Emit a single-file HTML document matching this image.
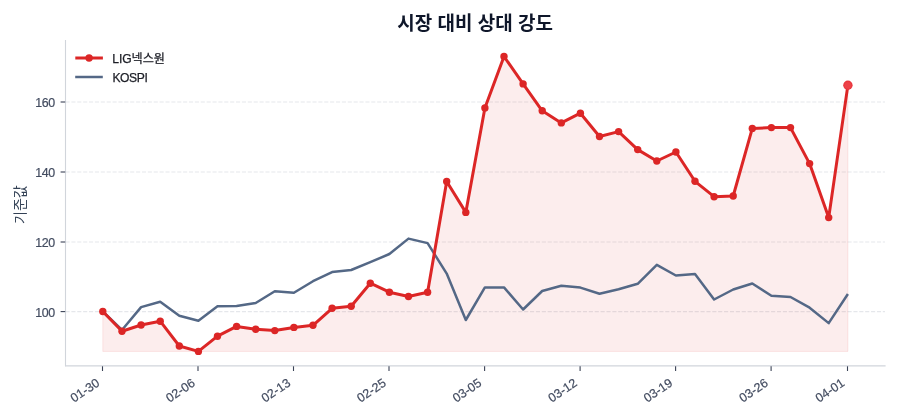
<!DOCTYPE html>
<html lang="ko"><head><meta charset="utf-8"><title>시장 대비 상대 강도</title>
<style>
html,body{margin:0;padding:0;background:#fff;}
body{width:900px;height:420px;overflow:hidden;}
svg{display:block;}
text{font-family:"Liberation Sans","Noto Sans CJK KR",sans-serif;}
.ko{font-family:"Liberation Sans","Noto Sans CJK KR",sans-serif;}
.tick{font-size:11.5px;fill:#434c60;stroke:#434c60;stroke-width:0.2px;}
.leg{font-size:12.1px;fill:#1c1e26;stroke:#1c1e26;stroke-width:0.25px;}
</style></head><body>
<svg width="900" height="420" viewBox="0 0 900 420">
<rect width="900" height="420" fill="#ffffff"/>
<line x1="65.5" x2="885" y1="102.0" y2="102.0" stroke="#e5e7eb" stroke-width="1.1" stroke-dasharray="4.1 1.78"/>
<line x1="65.5" x2="885" y1="172.0" y2="172.0" stroke="#e5e7eb" stroke-width="1.1" stroke-dasharray="4.1 1.78"/>
<line x1="65.5" x2="885" y1="242.0" y2="242.0" stroke="#e5e7eb" stroke-width="1.1" stroke-dasharray="4.1 1.78"/>
<line x1="65.5" x2="885" y1="311.6" y2="311.6" stroke="#e5e7eb" stroke-width="1.1" stroke-dasharray="4.1 1.78"/>
<polygon points="102.8,311.5 122.0,331.2 141.1,325.0 160.2,321.2 179.3,346.0 198.4,351.4 217.5,336.2 236.6,326.4 255.7,329.3 274.8,330.6 293.9,327.4 313.0,325.3 332.1,308.3 351.2,306.3 370.3,283.2 389.4,292.2 408.5,296.5 427.6,292.2 446.7,181.5 465.8,212.4 484.9,107.9 504.0,56.5 523.1,83.9 542.2,110.8 561.3,122.9 580.4,113.2 599.5,136.5 618.6,131.6 637.7,149.6 656.8,161.0 675.9,152.0 695.0,181.3 714.1,196.7 733.2,196.0 752.3,128.4 771.4,127.6 790.5,127.6 809.6,163.6 828.7,217.6 847.9,85.1 847.9,351.4 102.8,351.4" fill="#dc2626" fill-opacity="0.082" stroke="#dc2626" stroke-opacity="0.09" stroke-width="1"/>
<polyline points="102.8,311.5 122.0,330.0 141.1,307.1 160.2,301.7 179.3,315.7 198.4,320.7 217.5,306.2 236.6,306.1 255.7,303.0 274.8,291.3 293.9,292.7 313.0,281.2 332.1,272.1 351.2,270.0 370.3,262.2 389.4,254.0 408.5,238.6 427.6,243.1 446.7,273.6 465.8,320.0 484.9,287.4 504.0,287.4 523.1,309.5 542.2,291.0 561.3,285.7 580.4,287.6 599.5,293.8 618.6,289.3 637.7,283.8 656.8,264.8 675.9,275.5 695.0,274.0 714.1,299.5 733.2,289.5 752.3,283.5 771.4,295.7 790.5,297.0 809.6,307.7 828.7,323.1 847.9,294.0" fill="none" stroke="#546886" stroke-width="2.5" stroke-linejoin="round" stroke-linecap="butt"/>
<polyline points="102.8,311.5 122.0,331.2 141.1,325.0 160.2,321.2 179.3,346.0 198.4,351.4 217.5,336.2 236.6,326.4 255.7,329.3 274.8,330.6 293.9,327.4 313.0,325.3 332.1,308.3 351.2,306.3 370.3,283.2 389.4,292.2 408.5,296.5 427.6,292.2 446.7,181.5 465.8,212.4 484.9,107.9 504.0,56.5 523.1,83.9 542.2,110.8 561.3,122.9 580.4,113.2 599.5,136.5 618.6,131.6 637.7,149.6 656.8,161.0 675.9,152.0 695.0,181.3 714.1,196.7 733.2,196.0 752.3,128.4 771.4,127.6 790.5,127.6 809.6,163.6 828.7,217.6 847.9,85.1" fill="none" stroke="#dc2626" stroke-width="3" stroke-linejoin="round" stroke-linecap="butt"/>
<circle cx="102.8" cy="311.5" r="3.7" fill="#dc2626"/>
<circle cx="122.0" cy="331.2" r="3.7" fill="#dc2626"/>
<circle cx="141.1" cy="325.0" r="3.7" fill="#dc2626"/>
<circle cx="160.2" cy="321.2" r="3.7" fill="#dc2626"/>
<circle cx="179.3" cy="346.0" r="3.7" fill="#dc2626"/>
<circle cx="198.4" cy="351.4" r="3.7" fill="#dc2626"/>
<circle cx="217.5" cy="336.2" r="3.7" fill="#dc2626"/>
<circle cx="236.6" cy="326.4" r="3.7" fill="#dc2626"/>
<circle cx="255.7" cy="329.3" r="3.7" fill="#dc2626"/>
<circle cx="274.8" cy="330.6" r="3.7" fill="#dc2626"/>
<circle cx="293.9" cy="327.4" r="3.7" fill="#dc2626"/>
<circle cx="313.0" cy="325.3" r="3.7" fill="#dc2626"/>
<circle cx="332.1" cy="308.3" r="3.7" fill="#dc2626"/>
<circle cx="351.2" cy="306.3" r="3.7" fill="#dc2626"/>
<circle cx="370.3" cy="283.2" r="3.7" fill="#dc2626"/>
<circle cx="389.4" cy="292.2" r="3.7" fill="#dc2626"/>
<circle cx="408.5" cy="296.5" r="3.7" fill="#dc2626"/>
<circle cx="427.6" cy="292.2" r="3.7" fill="#dc2626"/>
<circle cx="446.7" cy="181.5" r="3.7" fill="#dc2626"/>
<circle cx="465.8" cy="212.4" r="3.7" fill="#dc2626"/>
<circle cx="484.9" cy="107.9" r="3.7" fill="#dc2626"/>
<circle cx="504.0" cy="56.5" r="3.7" fill="#dc2626"/>
<circle cx="523.1" cy="83.9" r="3.7" fill="#dc2626"/>
<circle cx="542.2" cy="110.8" r="3.7" fill="#dc2626"/>
<circle cx="561.3" cy="122.9" r="3.7" fill="#dc2626"/>
<circle cx="580.4" cy="113.2" r="3.7" fill="#dc2626"/>
<circle cx="599.5" cy="136.5" r="3.7" fill="#dc2626"/>
<circle cx="618.6" cy="131.6" r="3.7" fill="#dc2626"/>
<circle cx="637.7" cy="149.6" r="3.7" fill="#dc2626"/>
<circle cx="656.8" cy="161.0" r="3.7" fill="#dc2626"/>
<circle cx="675.9" cy="152.0" r="3.7" fill="#dc2626"/>
<circle cx="695.0" cy="181.3" r="3.7" fill="#dc2626"/>
<circle cx="714.1" cy="196.7" r="3.7" fill="#dc2626"/>
<circle cx="733.2" cy="196.0" r="3.7" fill="#dc2626"/>
<circle cx="752.3" cy="128.4" r="3.7" fill="#dc2626"/>
<circle cx="771.4" cy="127.6" r="3.7" fill="#dc2626"/>
<circle cx="790.5" cy="127.6" r="3.7" fill="#dc2626"/>
<circle cx="809.6" cy="163.6" r="3.7" fill="#dc2626"/>
<circle cx="828.7" cy="217.6" r="3.7" fill="#dc2626"/>
<circle cx="847.9" cy="85.1" r="3.7" fill="#dc2626"/>
<circle cx="847.9" cy="85.3" r="4.7" fill="#e9383f"/>
<circle cx="847.9" cy="85.3" r="3.4" fill="#ed4248"/>
<line x1="65.5" x2="65.5" y1="40" y2="366.2" stroke="#d1d5db" stroke-width="1.1"/>
<line x1="65" x2="885.6" y1="365.85" y2="365.85" stroke="#d1d5db" stroke-width="1.1"/>
<line x1="60.6" x2="65.2" y1="102.0" y2="102.0" stroke="#3b4356" stroke-width="1.1"/>
<text class="tick" x="54.6" y="106.9" text-anchor="end" style="font-size:12.4px;letter-spacing:-0.45px">160</text>
<line x1="60.6" x2="65.2" y1="172.0" y2="172.0" stroke="#3b4356" stroke-width="1.1"/>
<text class="tick" x="54.6" y="176.9" text-anchor="end" style="font-size:12.4px;letter-spacing:-0.45px">140</text>
<line x1="60.6" x2="65.2" y1="242.0" y2="242.0" stroke="#3b4356" stroke-width="1.1"/>
<text class="tick" x="54.6" y="246.9" text-anchor="end" style="font-size:12.4px;letter-spacing:-0.45px">120</text>
<line x1="60.6" x2="65.2" y1="311.6" y2="311.6" stroke="#3b4356" stroke-width="1.1"/>
<text class="tick" x="54.6" y="316.5" text-anchor="end" style="font-size:12.4px;letter-spacing:-0.45px">100</text>
<line x1="102.5" x2="102.5" y1="366.3" y2="371" stroke="#3b4356" stroke-width="1.1"/>
<text class="tick" transform="translate(100.4,385.0) rotate(-34)" text-anchor="end" style="font-size:12.4px">01-30</text>
<line x1="198.0" x2="198.0" y1="366.3" y2="371" stroke="#3b4356" stroke-width="1.1"/>
<text class="tick" transform="translate(195.9,385.0) rotate(-34)" text-anchor="end" style="font-size:12.4px">02-06</text>
<line x1="293.5" x2="293.5" y1="366.3" y2="371" stroke="#3b4356" stroke-width="1.1"/>
<text class="tick" transform="translate(291.4,385.0) rotate(-34)" text-anchor="end" style="font-size:12.4px">02-13</text>
<line x1="389.0" x2="389.0" y1="366.3" y2="371" stroke="#3b4356" stroke-width="1.1"/>
<text class="tick" transform="translate(386.9,385.0) rotate(-34)" text-anchor="end" style="font-size:12.4px">02-25</text>
<line x1="484.6" x2="484.6" y1="366.3" y2="371" stroke="#3b4356" stroke-width="1.1"/>
<text class="tick" transform="translate(482.5,385.0) rotate(-34)" text-anchor="end" style="font-size:12.4px">03-05</text>
<line x1="580.1" x2="580.1" y1="366.3" y2="371" stroke="#3b4356" stroke-width="1.1"/>
<text class="tick" transform="translate(578.0,385.0) rotate(-34)" text-anchor="end" style="font-size:12.4px">03-12</text>
<line x1="675.6" x2="675.6" y1="366.3" y2="371" stroke="#3b4356" stroke-width="1.1"/>
<text class="tick" transform="translate(673.5,385.0) rotate(-34)" text-anchor="end" style="font-size:12.4px">03-19</text>
<line x1="771.1" x2="771.1" y1="366.3" y2="371" stroke="#3b4356" stroke-width="1.1"/>
<text class="tick" transform="translate(769.0,385.0) rotate(-34)" text-anchor="end" style="font-size:12.4px">03-26</text>
<line x1="847.5" x2="847.5" y1="366.3" y2="371" stroke="#3b4356" stroke-width="1.1"/>
<text class="tick" transform="translate(845.4,385.0) rotate(-34)" text-anchor="end" style="font-size:12.4px">04-01</text>
<text class="ko" transform="translate(25.4,204.6) rotate(-90)" text-anchor="middle" font-size="14px" fill="#334155">기준값</text>
<text class="ko" x="475.2" y="29.7" text-anchor="middle" font-size="19px" font-weight="bold" fill="#0f172a">시장 대비 상대 강도</text>
<line x1="75.3" x2="102.9" y1="58" y2="58" stroke="#dc2626" stroke-width="3"/>
<circle cx="89.1" cy="58" r="3.7" fill="#dc2626"/>
<text class="leg" x="112.3" y="62.6"><tspan letter-spacing="-0.1px">LIG</tspan>넥스원</text>
<line x1="75.2" x2="102.8" y1="77" y2="77" stroke="#546886" stroke-width="2.5"/>
<text class="leg" x="112.4" y="81.6" letter-spacing="-0.4px">KOSPI</text>
</svg></body></html>
